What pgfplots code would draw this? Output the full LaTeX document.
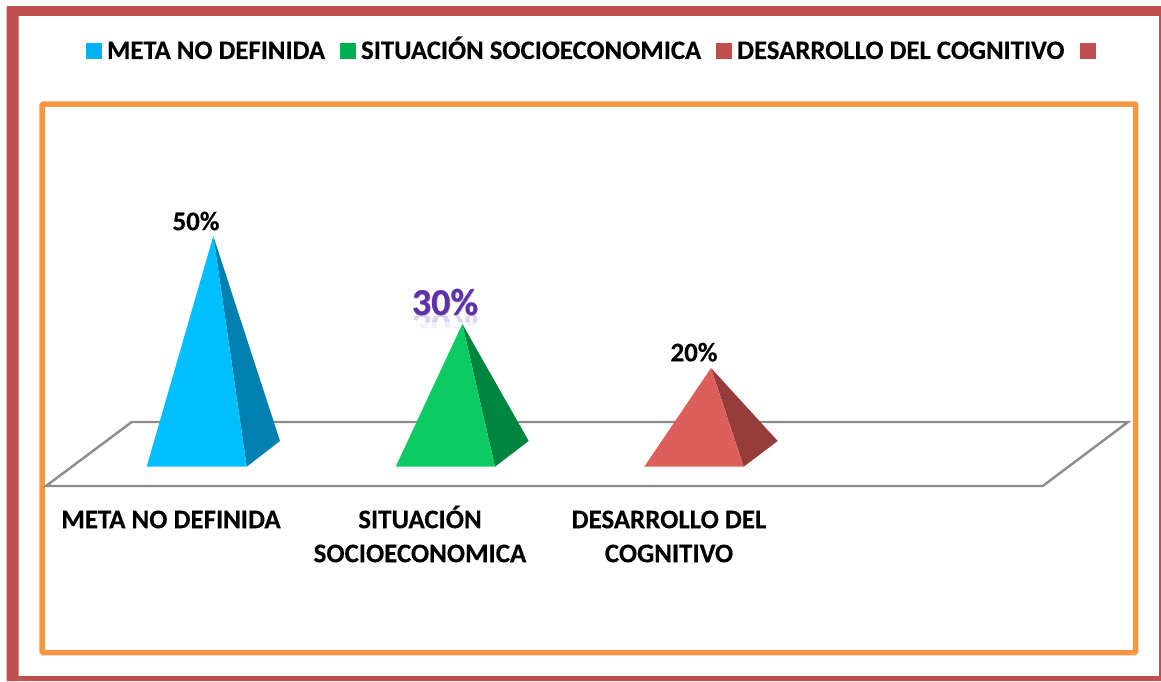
\documentclass[border=0pt]{standalone}
\usepackage{pgfplots}
\pgfplotsset{compat=1.18}
\usepackage{fontspec}
\setmainfont[BoldFeatures={FakeBold=0.3}]{Carlito}
\definecolor{frame}{HTML}{C0504D}
\definecolor{inner}{HTML}{F79646}
\definecolor{floor}{HTML}{8C8C8C}
\definecolor{lg1}{HTML}{00B0F0}
\definecolor{lg2}{HTML}{00B050}
\definecolor{lg3}{HTML}{C0504D}
\definecolor{pa}{HTML}{00BFFF}
\definecolor{pb}{HTML}{0080AF}
\definecolor{pc}{HTML}{0BCB62}
\definecolor{pd}{HTML}{00853F}
\definecolor{pe}{HTML}{DC5F5C}
\definecolor{pf}{HTML}{963C3A}
\definecolor{purp}{HTML}{6030A8}
\pgfplotsset{
  base/.style={scale only axis,width=1161pt,height=681pt,xmin=0,xmax=1161,hide axis,clip=false},
  sq/.style={legend image code/.code={\fill[##1] (0pt,-7.5pt) rectangle (15pt,7.5pt);}},
}
\newcommand{\lab}{\fontsize{26.9}{34}\selectfont\bfseries}
\newcommand{\labl}{\fontsize{26.75}{34}\selectfont\bfseries}
\begin{document}
\begin{tikzpicture}
\begin{axis}[base,ymin=0,ymax=681,y dir=reverse]
  \path (axis cs:0,0) rectangle (axis cs:1161,681);
  % outer frame
  \fill[frame,rounded corners=1pt] (axis cs:6.5,6) rectangle (axis cs:18.5,681);
  \fill[frame] (axis cs:6.5,6) rectangle (axis cs:1161,16);
  \fill[frame] (axis cs:1159,6) rectangle (axis cs:1161,681);
  \fill[frame] (axis cs:6.5,676) rectangle (axis cs:1161,681);
  % inner frame
  \draw[inner,line width=5.5pt,rounded corners=1pt] (axis cs:42.2,104) rectangle (axis cs:1135.5,652.5);
  % floor
  \draw[floor,line width=2.4pt,line join=miter] (axis cs:46,486) -- (axis cs:1042.7,486) -- (axis cs:1128,422) -- (axis cs:131.7,422) -- cycle;
  % category labels
  \node[align=center,anchor=north,inner sep=0pt,font=\lab,text=black] at (axis cs:171,504.2) {\strut META NO DEFINIDA};
  \node[align=center,anchor=north,inner sep=0pt,font=\lab,text=black] at (axis cs:420,504.2) {\strut SITUACIÓN\\SOCIOECONOMICA};
  \node[align=center,anchor=north,inner sep=0pt,font=\lab,text=black] at (axis cs:669,504.2) {\strut DESARROLLO DEL\\COGNITIVO};
  % reflection of the 30% label
  \begin{scope}
    \clip (axis cs:400,316) rectangle (axis cs:490,321);
    \node[font=\fontsize{38}{38}\selectfont\bfseries,text=purp,opacity=.2,yscale=-1] at (axis cs:445,326) {30\%};
  \end{scope}
  \begin{scope}
    \clip (axis cs:400,321) rectangle (axis cs:490,327);
    \node[font=\fontsize{38}{38}\selectfont\bfseries,text=purp,opacity=.07,yscale=-1] at (axis cs:445,326) {30\%};
  \end{scope}
\end{axis}
\begin{axis}[base,ymin=-51.136,ymax=103.636,
  legend columns=4,
  legend style={draw=none,fill=none,at={(0.07407,0.92584)},anchor=west,
    font=\labl,inner sep=0pt,outer sep=0pt,
    nodes={inner sep=0pt,outer sep=0pt,text height=17pt,text depth=0pt},
    /tikz/every even column/.append style={column sep=15pt},
    /tikz/every odd column/.append style={column sep=5.6pt}},
  legend cell align=left]
  \addlegendimage{sq,lg1}\addlegendentry{META NO DEFINIDA}
  \addlegendimage{sq,lg2}\addlegendentry{SITUACIÓN SOCIOECONOMICA}
  \addlegendimage{sq,lg3}\addlegendentry{DESARROLLO DEL COGNITIVO}
  \addlegendimage{sq,lg3}\addlegendentry{}
  % META NO DEFINIDA: 50
  \addplot[fill=pb,draw=none,forget plot] coordinates {(246.7,-2.43) (280,3.41) (213.3,50)} -- cycle;
  \addplot[fill=pa,draw=none,forget plot] coordinates {(146.7,-2.43) (246.7,-2.43) (213.3,50)} -- cycle;
  % SITUACION SOCIOECONOMICA: 30
  \addplot[fill=pd,draw=none,forget plot] coordinates {(495,-2.43) (528.7,3.41) (462.3,30)} -- cycle;
  \addplot[fill=pc,draw=none,forget plot] coordinates {(395.7,-2.43) (495,-2.43) (462.3,30)} -- cycle;
  % DESARROLLO DEL COGNITIVO: 20
  \addplot[fill=pf,draw=none,forget plot] coordinates {(743.7,-2.43) (777.7,3.41) (711,20)} -- cycle;
  \addplot[fill=pe,draw=none,forget plot] coordinates {(644.3,-2.43) (743.7,-2.43) (711,20)} -- cycle;
  \node[font=\lab,text=black] at (axis cs:196,53.4) {50\%};
  \node[font=\lab,text=black] at (axis cs:694,23.6) {20\%};
  \node[font=\fontsize{38}{38}\selectfont\bfseries,text=purp!45!gray!70,opacity=.6] at (axis cs:445.6,34.8) {30\%};
  \node[font=\fontsize{38}{38}\selectfont\bfseries,text=purp] at (axis cs:445,35) {30\%};
\end{axis}
\end{tikzpicture}
\end{document}
